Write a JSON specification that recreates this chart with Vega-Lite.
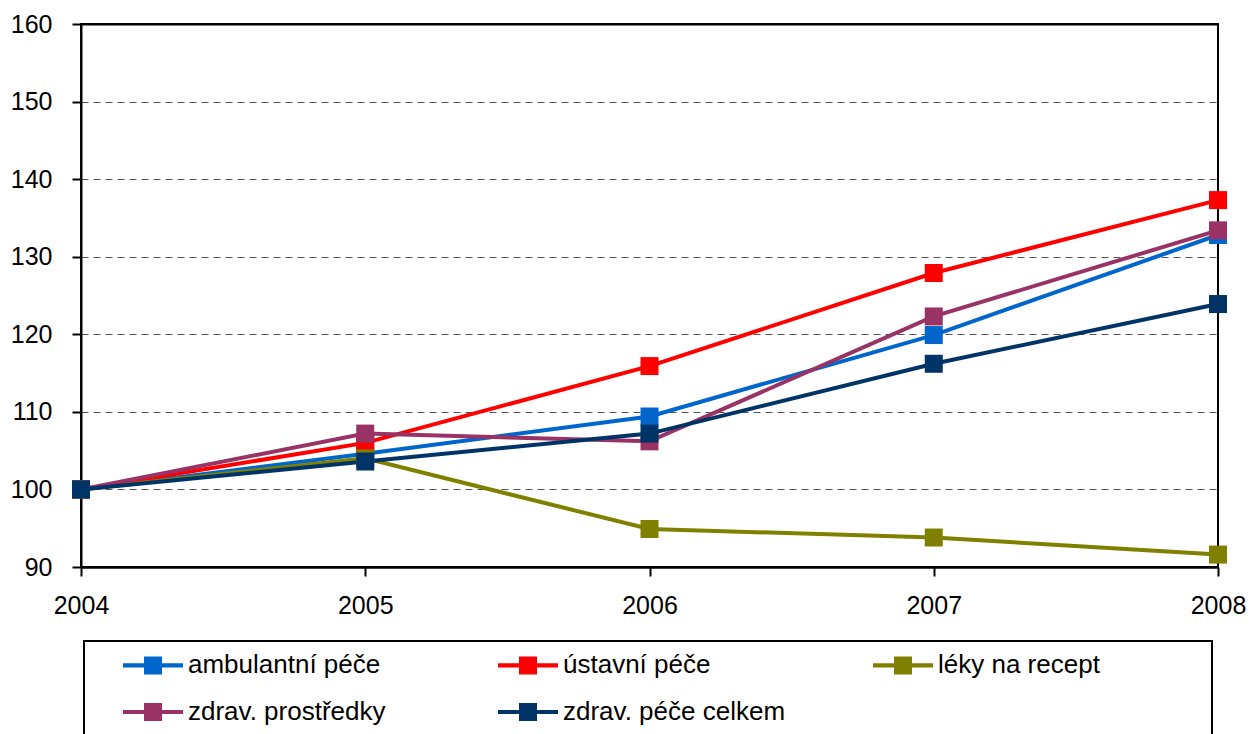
{
  "$schema": "https://vega.github.io/schema/vega-lite/v6.json",
  "width": 1137,
  "height": 543,
  "autosize": "none",
  "padding": {"left": 81, "top": 24, "right": 32, "bottom": 167},
  "background": "white",
  "config": {
    "view": {"stroke": "black", "strokeWidth": 2},
    "font": "Liberation Sans"
  },
  "data": {
    "values": [
      {"year": 2004, "series": "ambulantní péče", "value": 100},
      {"year": 2005, "series": "ambulantní péče", "value": 104.6},
      {"year": 2006, "series": "ambulantní péče", "value": 109.4},
      {"year": 2007, "series": "ambulantní péče", "value": 119.9},
      {"year": 2008, "series": "ambulantní péče", "value": 132.8},
      {"year": 2004, "series": "ústavní péče", "value": 100},
      {"year": 2005, "series": "ústavní péče", "value": 106.0},
      {"year": 2006, "series": "ústavní péče", "value": 115.9},
      {"year": 2007, "series": "ústavní péče", "value": 127.9},
      {"year": 2008, "series": "ústavní péče", "value": 137.3},
      {"year": 2004, "series": "léky na recept", "value": 100},
      {"year": 2005, "series": "léky na recept", "value": 104.0},
      {"year": 2006, "series": "léky na recept", "value": 94.9},
      {"year": 2007, "series": "léky na recept", "value": 93.8},
      {"year": 2008, "series": "léky na recept", "value": 91.6},
      {"year": 2004, "series": "zdrav. prostředky", "value": 100},
      {"year": 2005, "series": "zdrav. prostředky", "value": 107.2},
      {"year": 2006, "series": "zdrav. prostředky", "value": 106.2},
      {"year": 2007, "series": "zdrav. prostředky", "value": 122.3},
      {"year": 2008, "series": "zdrav. prostředky", "value": 133.4},
      {"year": 2004, "series": "zdrav. péče celkem", "value": 100},
      {"year": 2005, "series": "zdrav. péče celkem", "value": 103.6},
      {"year": 2006, "series": "zdrav. péče celkem", "value": 107.2},
      {"year": 2007, "series": "zdrav. péče celkem", "value": 116.2},
      {"year": 2008, "series": "zdrav. péče celkem", "value": 123.9}
    ]
  },
  "encoding": {
    "x": {
      "field": "year",
      "type": "quantitative",
      "scale": {"domain": [2004, 2008], "nice": false, "zero": false},
      "axis": {
        "title": null,
        "values": [2004, 2005, 2006, 2007, 2008],
        "format": "d",
        "grid": false,
        "labelFlush": false,
        "labelFont": "Liberation Sans",
        "labelFontSize": 25,
        "labelColor": "black",
        "labelPadding": 17,
        "tickSize": 9,
        "tickWidth": 2,
        "tickColor": "black",
        "domainColor": "black",
        "domainWidth": 2
      }
    },
    "y": {
      "field": "value",
      "type": "quantitative",
      "scale": {"domain": [90, 160], "nice": false, "zero": false},
      "axis": {
        "title": null,
        "values": [90, 100, 110, 120, 130, 140, 150, 160],
        "grid": true,
        "gridColor": {"condition": {"test": "datum.value == 160 || datum.value == 90", "value": "black"}, "value": "#555555"},
        "gridDash": {"condition": {"test": "datum.value == 160 || datum.value == 90", "value": []}, "value": [7, 5]},
        "gridWidth": {"condition": {"test": "datum.value == 160 || datum.value == 90", "value": 2}, "value": 1},
        "labelFont": "Liberation Sans",
        "labelFontSize": 25,
        "labelColor": "black",
        "labelPadding": 20,
        "tickSize": 9,
        "tickWidth": 2,
        "tickColor": "black",
        "domainColor": "black",
        "domainWidth": 2
      }
    },
    "color": {
      "field": "series",
      "type": "nominal",
      "sort": null,
      "scale": {
        "domain": ["ambulantní péče", "ústavní péče", "léky na recept", "zdrav. prostředky", "zdrav. péče celkem"],
        "range": ["#0066CC", "#FF0000", "#808000", "#993366", "#003366"]
      },
      "legend": {
        "orient": "none",
        "legendX": 3,
        "legendY": 617,
        "direction": "horizontal",
        "columns": 3,
        "gridAlign": "all",
        "title": " ",
        "titleOrient": "left",
        "titleFontSize": 10,
        "titlePadding": 30,
        "padding": 9,
        "strokeColor": "black",
        "fillColor": "white",
        "columnPadding": 45,
        "rowPadding": 6,
        "symbolType": "M-1,-0.14H3V0.14H-1Z M0.4,-0.6H1.6V0.6H0.4Z M21,-1M21,1.67",
        "symbolSize": 900,
        "symbolStrokeWidth": 0,
        "symbolOpacity": 1,
        "labelFont": "Liberation Sans",
        "labelFontSize": 26,
        "labelColor": "black",
        "labelOffset": 35,
        "labelLimit": 0,
        "encode": {
          "legend": {"update": {"strokeWidth": {"value": 2}}},
          "symbols": {"update": {"fill": {"scale": "color", "field": "value"}, "strokeWidth": {"value": 0}, "opacity": {"value": 1}}}
        }
      }
    }
  },
  "layer": [
    {"mark": {"type": "line", "strokeWidth": 4}},
    {"mark": {"type": "point", "shape": "square", "filled": true, "size": 324, "opacity": 1}}
  ]
}
